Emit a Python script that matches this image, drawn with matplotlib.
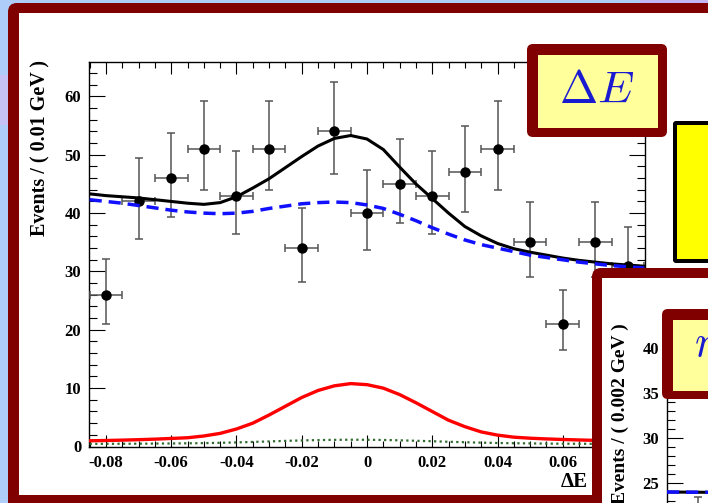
import matplotlib
matplotlib.use("Agg")
import matplotlib.pyplot as plt
from matplotlib.patches import FancyBboxPatch, Rectangle
from matplotlib.ticker import MultipleLocator, FuncFormatter

plt.rcParams['font.family'] = ['Liberation Serif', 'DejaVu Serif']
plt.rcParams['font.weight'] = 'bold'
plt.rcParams['axes.unicode_minus'] = False
plt.rcParams['mathtext.fontset'] = 'cm'

# Delta E fit: data per 0.01 GeV bin
de_bins = [-0.08, -0.07, -0.06, -0.05, -0.04, -0.03, -0.02, -0.01, 0.0,
           0.01, 0.02, 0.03, 0.04, 0.05, 0.06, 0.07, 0.08]
de_counts = [26, 42, 46, 51, 43, 51, 34, 54, 40, 45, 43, 47, 51, 35, 21, 35, 31]
de_err_lo = [5.0, 6.4, 6.7, 7.1, 6.5, 7.1, 5.8, 7.3, 6.3, 6.7, 6.5, 6.8, 7.1, 5.9, 4.5, 5.9, 5.5]
de_err_hi = [6.1, 7.5, 7.8, 8.2, 7.6, 8.2, 6.9, 8.4, 7.4, 7.7, 7.6, 7.9, 8.2, 6.9, 5.8, 6.9, 6.6]
de_bin_half = 0.005

curve_x = [-0.085, -0.080, -0.075, -0.070, -0.065, -0.060, -0.055, -0.050, -0.045,
           -0.040, -0.035, -0.030, -0.025, -0.020, -0.015, -0.010, -0.005, 0.000,
           0.005, 0.010, 0.015, 0.020, 0.025, 0.030, 0.035, 0.040, 0.045, 0.050,
           0.055, 0.060, 0.065, 0.070, 0.075, 0.080, 0.085]
total_fit = [43.3, 43.0, 42.8, 42.6, 42.3, 42.0, 41.7, 41.5, 41.8,
             42.8, 44.3, 45.9, 47.8, 49.7, 51.5, 52.8, 53.3, 52.7,
             50.9, 47.9, 45.0, 42.5, 40.0, 37.7, 36.1, 34.8, 33.9, 33.3,
             32.8, 32.3, 31.9, 31.6, 31.3, 31.1, 30.9]
bkg_fit = [42.3, 42.0, 41.7, 41.3, 40.9, 40.5, 40.2, 40.0, 39.9,
           40.0, 40.3, 40.8, 41.2, 41.6, 41.8, 41.9, 41.8, 41.4,
           40.8, 39.8, 38.7, 37.5, 36.4, 35.4, 34.6, 34.0, 33.4, 32.8,
           32.4, 32.0, 31.6, 31.3, 31.0, 30.8, 30.6]
sig_fit = [0.98, 1.03, 1.09, 1.17, 1.26, 1.38, 1.5, 1.8, 2.25,
           3.0, 4.0, 5.4, 6.9, 8.4, 9.6, 10.4, 10.78, 10.6,
           10.0, 8.9, 7.5, 6.0, 4.5, 3.4, 2.5, 1.95, 1.6, 1.42,
           1.3, 1.2, 1.12, 1.05, 1.0, 0.96, 0.92]
peak_bkg_fit = [0.45, 0.46, 0.47, 0.48, 0.5, 0.52, 0.55, 0.58, 0.63,
                0.7, 0.78, 0.87, 0.96, 1.04, 1.1, 1.14, 1.16, 1.15,
                1.12, 1.06, 0.98, 0.9, 0.81, 0.73, 0.66, 0.6, 0.56, 0.53,
                0.5, 0.48, 0.47, 0.46, 0.45, 0.44, 0.43]

# the m_bc panel peeking in at the lower right corner
mbc_x = [5.200, 5.210]
mbc_total = [24.0, 23.95]
mbc_bkg = [24.0, 23.95]
mbc_pts_x = [5.205]
mbc_pts_y = [19.0]
mbc_pts_err = [4.4]

W, H = 708, 503
DARKRED = '#800000'

fig = plt.figure(figsize=(W / 100, H / 100), dpi=100)


def px_axes(left, top, right, bottom, z):
    return fig.add_axes([left / W, 1 - bottom / H, (right - left) / W, (bottom - top) / H], zorder=z)


def overlay(z):
    ov = fig.add_axes([0, 0, 1, 1], zorder=z)
    ov.set_xlim(0, W)
    ov.set_ylim(H, 0)
    ov.axis('off')
    return ov


def framed_box(ov, outer, inner, edge, face, rad):
    x0, y0, x1, y1 = outer
    ov.add_patch(FancyBboxPatch((x0, y0), x1 - x0, y1 - y0,
                                boxstyle=f"round,pad=0,rounding_size={rad}",
                                fc=edge, ec='none'))
    x0, y0, x1, y1 = inner
    ov.add_patch(Rectangle((x0, y0), x1 - x0, y1 - y0, fc=face, ec='none'))


def root_ticks(a, ymajor, yminor):
    a.tick_params(which='both', direction='in', top=True, right=True, width=0.8, labelsize=12)
    a.tick_params(axis='x', which='major', length=8.5, pad=6)
    a.tick_params(axis='x', which='minor', length=4.3)
    a.tick_params(axis='y', which='major', length=11.5, pad=5.5)
    a.tick_params(axis='y', which='minor', length=5.5)
    a.yaxis.set_major_locator(MultipleLocator(ymajor))
    a.yaxis.set_minor_locator(MultipleLocator(yminor))
    for sp in a.spines.values():
        sp.set_linewidth(1.0)


def de_label(v, pos):
    # the 0.08 label sits under the m_bc panel on the slide
    v = round(v, 4) + 0.0
    return '' if v > 0.07 else f"{v:g}"


# slide background and main panel
bg = overlay(0)
bg.add_patch(Rectangle((0, 0), W, H, fc='#aecdf8', ec='none'))
bg.add_patch(Rectangle((0, 75), 8, 50, fc='#c6c2f5', ec='none'))
bg.add_patch(Rectangle((640, 0), 68, 3, fc='#c4b6f2', ec='none'))
framed_box(bg, (8, 3, 740, 520), (19, 13, 740, 495), DARKRED, 'white', 9)

# main Delta E plot
ax = px_axes(89, 62, 645, 446.5, 1)
ax.errorbar(de_bins, de_counts, xerr=de_bin_half, yerr=[de_err_lo, de_err_hi],
            fmt='o', color='black', ms=6.5, ecolor='#555555', elinewidth=1.1,
            capsize=2.8, capthick=1.1, zorder=3)
ax.plot(curve_x, peak_bkg_fit, color='#2f6b2f', lw=1.6, ls=(0, (1, 1.5)), zorder=4)
ax.plot(curve_x, sig_fit, color='#ff0000', lw=2.4, zorder=5)
ax.plot(curve_x, total_fit, color='black', lw=2.2, zorder=6)
ax.plot(curve_x, bkg_fit, color='#1010ff', lw=2.5, ls=(0, (3.5, 2)), zorder=7)
ax.set_xlim(-0.0852, 0.0852)
ax.set_ylim(0, 65.9)
root_ticks(ax, 10, 2)
ax.xaxis.set_major_locator(MultipleLocator(0.02))
ax.xaxis.set_minor_locator(MultipleLocator(0.005))
ax.xaxis.set_major_formatter(FuncFormatter(de_label))
ax.set_ylabel('Events / ( 0.01 GeV )', fontsize=14.5, fontweight='bold', loc='top')
ax.yaxis.set_label_coords(-0.07, 1.005)
ax.set_xlabel('ΔE', fontsize=15, fontweight='bold', loc='right')
ax.xaxis.set_label_coords((588 - 89) / 556, -0.066)

# boxes laid over the plot
ov = overlay(2)
framed_box(ov, (527, 44, 667, 137), (538, 55, 658, 128), DARKRED, '#ffff9c', 6)
ov.text(597, 92, r'$\Delta E$', fontsize=33, color='#1a1ad0', ha='center', va='center')
framed_box(ov, (673, 121, 740, 263), (677, 125, 740, 259), 'black', '#ffff00', 3)
framed_box(ov, (592, 268, 740, 540), (602, 278, 740, 540), DARKRED, 'white', 9)

# lower-right m_bc panel (mostly off the slide)
ax2 = px_axes(667, 340, 1227, 520, 3)
ax2.patch.set_alpha(0)
ax2.errorbar(mbc_pts_x, mbc_pts_y, yerr=mbc_pts_err, fmt='o', color='black', ms=6.5,
             ecolor='#555555', elinewidth=1.1, capsize=2.8, capthick=1.1, zorder=3)
ax2.plot(mbc_x, mbc_total, color='black', lw=2.2, zorder=4)
ax2.plot(mbc_x, mbc_bkg, color='#1010ff', lw=2.5, ls=(0, (3.5, 2)), zorder=5)
ax2.set_xlim(5.20, 5.29)
ax2.set_ylim(20.89, 40.89)
root_ticks(ax2, 5, 1)
ax2.tick_params(axis='x', which='both', bottom=False, labelbottom=False)
ax2.set_ylabel('Events / ( 0.002 GeV )', fontsize=14, fontweight='bold', loc='top')
ax2.yaxis.set_label_coords(-0.068, 1.094)

ov2 = overlay(4)
framed_box(ov2, (662, 309, 740, 399), (673, 320, 740, 391), DARKRED, '#ffff9c', 6)
ov2.text(694, 345, r'$m_{bc}$', fontsize=32, color='#1a1ad0', ha='left', va='center')

fig.savefig('out.png', dpi=100)
